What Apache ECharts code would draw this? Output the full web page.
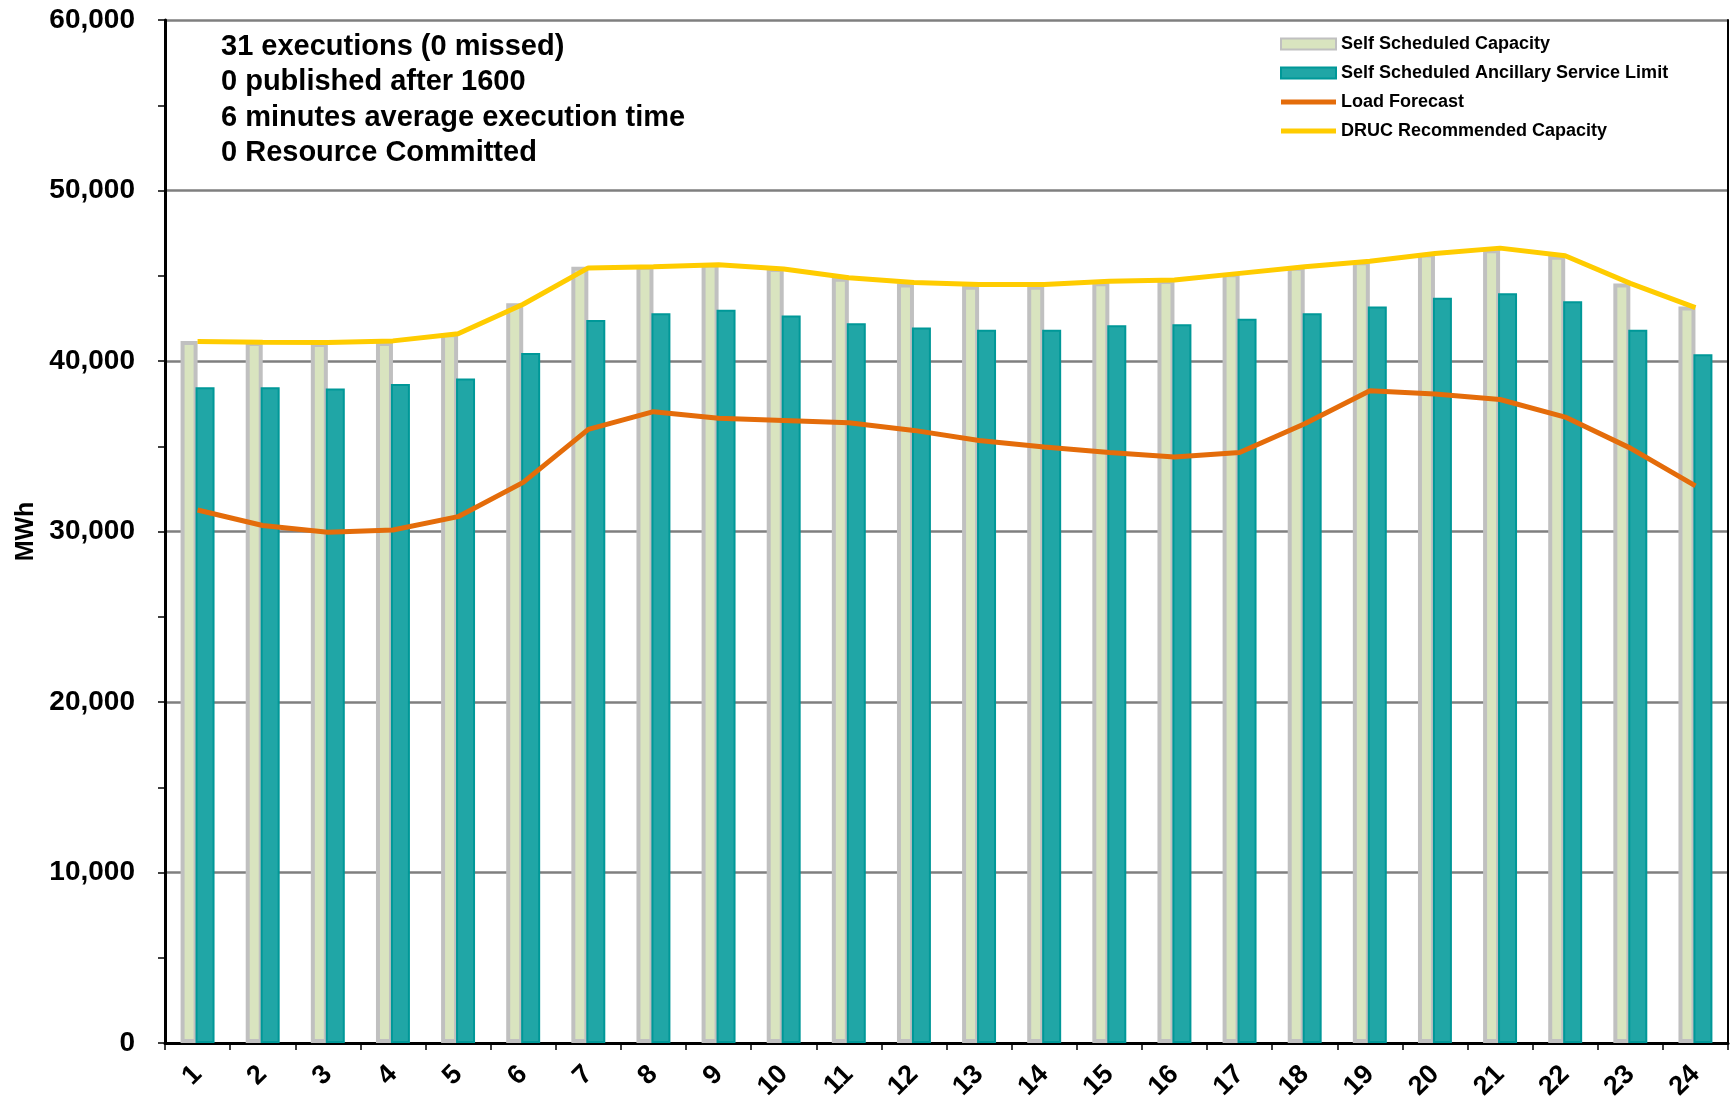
<!DOCTYPE html>
<html>
<head>
<meta charset="utf-8">
<script src="https://cdn.jsdelivr.net/npm/echarts@6/dist/echarts.min.js"></script>
<style>
  html, body { margin: 0; padding: 0; background: #fff; }
  #main { width: 1734px; height: 1098px; }
</style>
</head>
<body>
<div id="main"></div>
<script>
var hours = ['1', '2', '3', '4', '5', '6', '7', '8', '9', '10', '11', '12',
  '13', '14', '15', '16', '17', '18', '19', '20', '21', '22', '23', '24']

// MWh
var selfCapacity = [41180, 41110, 41050, 41110, 41630, 43390, 45530, 45590, 45720, 45460, 44880, 44550,
  44420, 44420, 44620, 44750, 45140, 45530, 45850, 46300, 46560, 46170, 44550, 43190]
var ancillaryLimit = [38460, 38460, 38390, 38650, 38980, 40470, 42410, 42800, 43000, 42670, 42220, 41960,
  41830, 41830, 42090, 42150, 42480, 42800, 43190, 43710, 43970, 43510, 41830, 40400]
var loadForecast = [31260, 30350, 29960, 30090, 30870, 32880, 35990, 37030, 36640, 36510, 36380, 35930,
  35340, 34950, 34630, 34370, 34630, 36320, 38260, 38070, 37740, 36710, 34890, 32680]
var druc = [41150, 41100, 41080, 41180, 41600, 43330, 45460, 45530, 45650, 45400, 44880, 44610,
  44480, 44480, 44680, 44750, 45140, 45530, 45850, 46300, 46620, 46170, 44550, 43130]

var notes = [
  '31 executions (0 missed)',
  '0 published after 1600',
  '6 minutes average execution time',
  '0 Resource Committed'
]

var chart = echarts.init(document.getElementById('main'))
var font = 'Liberation Sans, Arial, sans-serif'
var lineIcon = 'path://M0,0 L110,0 L110,10 L0,10 Z'

var option = {
  animation: false,
  backgroundColor: '#fff',
  textStyle: { fontFamily: font },
  grid: { left: 165, right: 6, top: 20, bottom: 55, outerBoundsMode: 'none' },
  legend: {
    orient: 'vertical',
    left: 1275,
    top: 30,
    itemWidth: 55,
    itemHeight: 11,
    itemGap: 11,
    textStyle: { fontFamily: font, fontSize: 18, fontWeight: 'bold', color: '#000', lineHeight: 18 },
    data: [
      { name: 'Self Scheduled Capacity', icon: 'rect' },
      { name: 'Self Scheduled Ancillary Service Limit', icon: 'rect' },
      { name: 'Load Forecast', icon: lineIcon, itemStyle: { color: '#e46c0a', borderWidth: 0 } },
      { name: 'DRUC Recommended Capacity', icon: lineIcon, itemStyle: { color: '#ffcc00', borderWidth: 0 } }
    ]
  },
  graphic: [
    {
      type: 'text',
      left: 221,
      top: 29,
      style: {
        text: notes.join('\n'),
        font: 'bold 29px ' + font,
        lineHeight: 35.5,
        fill: '#000'
      }
    }
  ],
  xAxis: [
    {
      type: 'category',
      data: hours,
      boundaryGap: true,
      axisLine: { lineStyle: { color: '#000', width: 3 } },
      axisTick: { show: true, length: 7, lineStyle: { color: '#000', width: 1.5 } },
      axisLabel: {
        rotate: 45,
        margin: 27,
        color: '#000',
        fontFamily: font,
        fontSize: 27,
        fontWeight: 'bold'
      }
    },
    {
      type: 'category',
      data: hours,
      position: 'top',
      axisLine: { show: true, lineStyle: { color: '#000', width: 2 } },
      axisTick: { show: false },
      axisLabel: { show: false }
    }
  ],
  yAxis: [
    {
      type: 'value',
      min: 0,
      max: 60000,
      interval: 10000,
      name: 'MWh',
      nameLocation: 'middle',
      nameGap: 126,
      nameRotate: 90,
      nameTextStyle: { fontFamily: font, fontSize: 25, fontWeight: 'bold', color: '#000' },
      axisLine: { show: true, lineStyle: { color: '#000', width: 3 } },
      axisTick: { show: true, length: 7, lineStyle: { color: '#000', width: 1.5 } },
      minorTick: { show: true, splitNumber: 2, length: 7, lineStyle: { color: '#000', width: 1.5 } },
      splitLine: { show: true, lineStyle: { color: '#7f7f7f', width: 2.5 } },
      axisLabel: {
        margin: 30,
        color: '#000',
        fontFamily: font,
        fontSize: 28,
        fontWeight: 'bold',
        formatter: function (v) { return v.toLocaleString('en-US') }
      }
    },
    {
      type: 'value',
      min: 0,
      max: 60000,
      interval: 10000,
      position: 'right',
      axisLine: { show: true, lineStyle: { color: '#000', width: 2 } },
      axisTick: { show: false },
      axisLabel: { show: false },
      splitLine: { show: false }
    }
  ],
  series: [
    {
      name: 'Self Scheduled Capacity',
      type: 'bar',
      data: selfCapacity,
      barWidth: 17,
      barGap: '-12%',
      itemStyle: { color: '#d9e4bf', borderColor: '#c0c0c0', borderWidth: 4 }
    },
    {
      name: 'Self Scheduled Ancillary Service Limit',
      type: 'bar',
      data: ancillaryLimit,
      barWidth: 19,
      itemStyle: { color: '#20a6a6', borderColor: '#009898', borderWidth: 2 }
    },
    {
      name: 'Load Forecast',
      type: 'line',
      data: loadForecast,
      symbol: 'none',
      z: 5,
      lineStyle: { color: '#e46c0a', width: 5 },
      itemStyle: { color: '#e46c0a' }
    },
    {
      name: 'DRUC Recommended Capacity',
      type: 'line',
      data: druc,
      symbol: 'none',
      z: 5,
      lineStyle: { color: '#ffcc00', width: 5 },
      itemStyle: { color: '#ffcc00' }
    }
  ]
}

chart.setOption(option)
</script>
</body>
</html>
